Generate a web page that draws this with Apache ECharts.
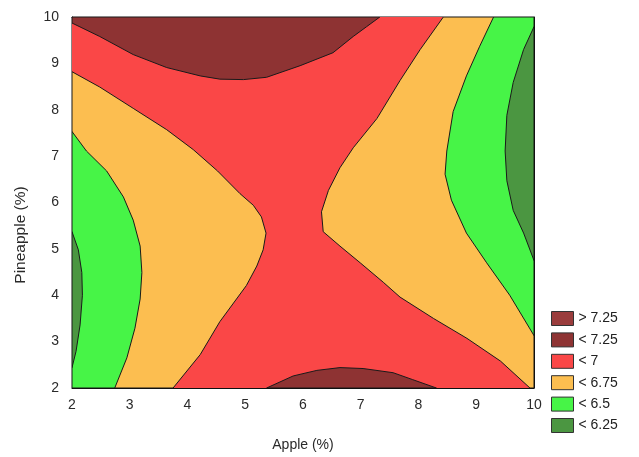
<!DOCTYPE html>
<html><head><meta charset="utf-8">
<script src="https://cdn.jsdelivr.net/npm/echarts@6/dist/echarts.min.js"></script>
<style>html,body{margin:0;padding:0;background:#fff}#c{width:639px;height:457px}</style>
</head><body><div id="c"></div>
<script>
// Axis ticks
const xTicks = [2,3,4,5,6,7,8,9,10];
const yTicks = [2,3,4,5,6,7,8,9,10];
const levels = ['> 7.25','< 7.25','< 7','< 6.75','< 6.5','< 6.25'];

// Contour boundaries (Apple %, Pineapple %)
const topDarkRedX = [2, 2.48, 3.06, 3.64, 4.22, 4.56, 4.97, 5.37, 5.95, 6.52, 6.87, 7.10, 7.33];
const topDarkRedY = [9.87, 9.58, 9.19, 8.91, 8.73, 8.66, 8.65, 8.70, 8.95, 9.23, 9.58, 9.79, 10];
const bottomDarkRedX = [5.37, 5.83, 6.24, 6.64, 7.04, 7.56, 7.9, 8.31];
const bottomDarkRedY = [2, 2.26, 2.38, 2.44, 2.42, 2.33, 2.18, 2];
const leftOrangeX = [2, 2.48, 3.06, 3.64, 4.10, 4.52, 4.91, 5.14, 5.28, 5.36, 5.31, 5.20, 5.02, 4.56, 4.22, 3.75];
const leftOrangeY = [8.82, 8.49, 8.03, 7.57, 7.14, 6.68, 6.19, 5.94, 5.69, 5.34, 4.98, 4.63, 4.21, 3.43, 2.72, 2];
const leftGreenX = [2, 2.25, 2.60, 2.89, 3.06, 3.18, 3.21, 3.18, 3.09, 2.95, 2.74];
const leftGreenY = [7.53, 7.11, 6.68, 6.12, 5.62, 5.06, 4.49, 3.92, 3.29, 2.65, 2];
const leftDkGreenX = [2, 2.11, 2.17, 2.18, 2.14, 2.07, 2];
const leftDkGreenY = [5.37, 4.98, 4.49, 4.0, 3.36, 2.79, 2.44];
const rightOrangeX = [8.43, 8.03, 7.68, 7.28, 6.87, 6.64, 6.44, 6.32, 6.35, 6.64, 6.99, 7.39, 7.68, 8.26, 8.84, 9.42, 9.93];
const rightOrangeY = [10, 9.30, 8.63, 7.81, 7.18, 6.75, 6.26, 5.80, 5.37, 5.06, 4.70, 4.28, 3.96, 3.50, 3.07, 2.58, 2];
const rightGreenX = [9.30, 9.06, 8.83, 8.60, 8.49, 8.46, 8.57, 8.83, 9.18, 9.58, 10];
const rightGreenY = [10, 9.37, 8.73, 7.96, 7.11, 6.61, 6.05, 5.34, 4.70, 4.0, 3.13];
const rightDkGreenX = [10, 9.82, 9.64, 9.53, 9.50, 9.53, 9.64, 9.82, 10];
const rightDkGreenY = [9.79, 9.30, 8.59, 7.88, 7.11, 6.47, 5.83, 5.34, 4.75];

const C = {
  gt725: '#9a3c3c', lt725: '#8e3333', lt7: '#fa4747', lt675: '#fcbe50', lt65: '#47f447', lt625: '#4b9641'
};

function zip(xs, ys){ return xs.map((x,i)=>[x, ys[i]]); }

// closing corners along the plot frame
function region(name, xs, ys, close, fill, stroke){
  const pts = zip(xs, ys).concat(close);
  return {
    type: 'custom', name: name, data: pts, silent: true, clip: true,
    itemStyle: {color: fill},
    encode: {x: 0, y: 1},
    renderItem: function(params, api){
      if (params.dataIndex !== 0) return;
      const p = pts.map(d => api.coord(d));
      return {type: 'polygon', shape: {points: p},
        style: {fill: fill, stroke: stroke ? '#1a1a1a' : null, lineWidth: stroke ? 1 : 0}};
    }
  };
}

const series = [
  region('< 7', [2,10,10,2], [2,2,10,10], [], C.lt7, false),
  region('< 7.25', topDarkRedX, topDarkRedY, [[2,10]], C.lt725, true),
  region('< 7.25', bottomDarkRedX, bottomDarkRedY, [], C.lt725, true),
  region('< 6.75', leftOrangeX, leftOrangeY, [[2,2]], C.lt675, true),
  region('< 6.5', leftGreenX, leftGreenY, [[2,2]], C.lt65, true),
  region('< 6.25', leftDkGreenX, leftDkGreenY, [], C.lt625, true),
  region('< 6.75', rightOrangeX, rightOrangeY, [[10,2],[10,10]], C.lt675, true),
  region('< 6.5', rightGreenX, rightGreenY, [[10,10]], C.lt65, true),
  region('< 6.25', rightDkGreenX, rightDkGreenY, [], C.lt625, true),
  {type: 'custom', name: '> 7.25', data: [], renderItem: function(){}, itemStyle: {color: C.gt725}}
];

const legendColors = [C.gt725, C.lt725, C.lt7, C.lt675, C.lt65, C.lt625];

const chart = echarts.init(document.getElementById('c'), null, {renderer: 'canvas'});
const axisCommon = {
  type: 'value', min: 2, max: 10, interval: 1,
  axisLine: {show: true, onZero: false, lineStyle: {color: '#111', width: 1}},
  axisTick: {show: true, inside: true, length: 4, lineStyle: {color: '#111'}},
  splitLine: {show: false}
};
chart.setOption({
  animation: false,
  textStyle: {fontFamily: 'Liberation Sans, Arial, sans-serif'},
  grid: {left: 72, top: 17, width: 462, height: 377, show: true, borderColor: '#111', borderWidth: 1, backgroundColor: 'transparent'},
  xAxis: [
    Object.assign({}, axisCommon, {position: 'bottom', name: 'Apple (%)', nameLocation: 'middle', nameGap: 50,
      nameTextStyle: {fontSize: 14, color: '#2a2a2a'},
      axisLabel: {fontSize: 14, color: '#2a2a2a', margin: 10, formatter: v => xTicks.includes(v) ? String(v) : ''}}),
    Object.assign({}, axisCommon, {position: 'top', axisLabel: {show: false}})
  ],
  yAxis: [
    Object.assign({}, axisCommon, {position: 'left',
      axisLabel: {fontSize: 14, color: '#2a2a2a', margin: 13, formatter: v => yTicks.includes(v) ? String(v) : ''}}),
    Object.assign({}, axisCommon, {position: 'right', axisLabel: {show: false}})
  ],
  legend: {
    orient: 'vertical', left: 551, top: 311, padding: 0, itemWidth: 22, itemHeight: 14, itemGap: 6.4,
    icon: 'rect', selectedMode: false,
    textStyle: {fontSize: 14, color: '#222'},
    data: levels.map((n,i) => ({name: n, itemStyle: {color: legendColors[i], borderColor: '#333', borderWidth: 1}}))
  },
  graphic: [{
    type: 'text', x: 21, y: 235, rotation: Math.PI/2,
    style: {text: 'Pineapple (%)', fontSize: 15.5, fill: '#2a2a2a', align: 'center', verticalAlign: 'middle',
      fontFamily: 'Liberation Sans, Arial, sans-serif'}
  }],
  series: series
});
</script></body></html>
